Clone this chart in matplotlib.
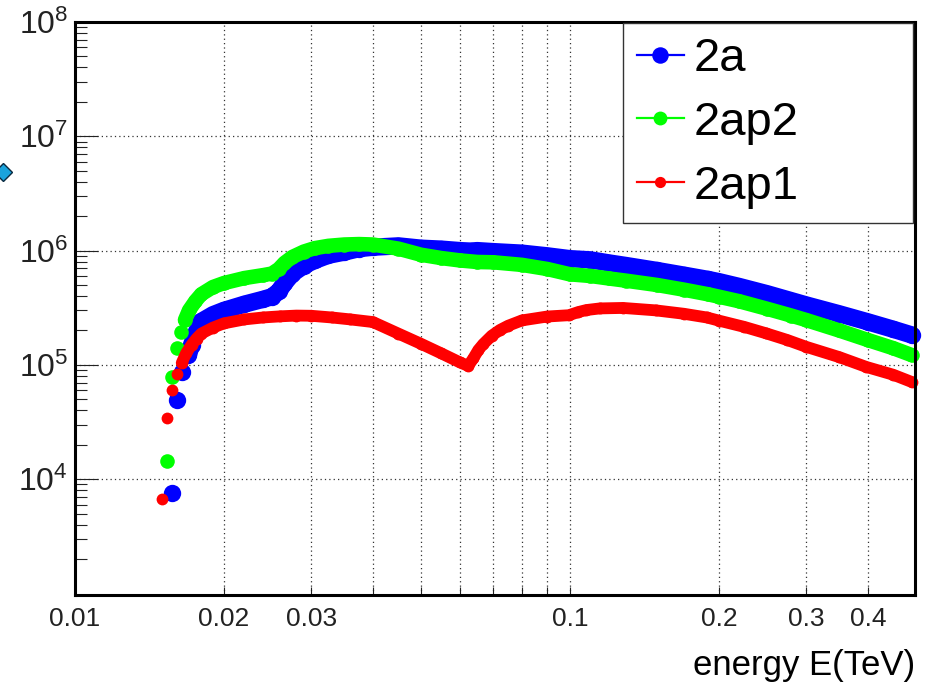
import matplotlib
matplotlib.use('Agg')
import matplotlib.pyplot as plt
from matplotlib.lines import Line2D
from matplotlib.ticker import FixedLocator, FixedFormatter, NullFormatter

plt.rcParams['font.family'] = ['Liberation Sans', 'DejaVu Sans']
plt.rcParams['mathtext.fontset'] = 'custom'
plt.rcParams['mathtext.rm'] = 'Liberation Sans'

# --- data (energy in TeV) ---
e_2a = [0.01568, 0.01605, 0.01647, 0.01694, 0.0172, 0.0176, 0.018, 0.019, 0.02,
        0.022, 0.024, 0.025, 0.0258, 0.0265, 0.0275, 0.029, 0.0305, 0.0325,
        0.035, 0.0375, 0.04, 0.045, 0.05, 0.055, 0.06, 0.063, 0.065, 0.07,
        0.08, 0.09, 0.1, 0.11, 0.12, 0.13, 0.15, 0.17, 0.19, 0.2, 0.22, 0.25,
        0.28, 0.3, 0.35, 0.4, 0.45, 0.49]
v_2a = [7.6e3, 4.9e4, 8.6e4, 1.22e5, 1.5e5, 1.95e5, 2.4e5, 2.75e5, 3.0e5,
        3.4e5, 3.75e5, 3.95e5, 4.4e5, 5.2e5, 6.3e5, 7.4e5, 8.2e5, 9.1e5,
        9.7e5, 1.04e6, 1.07e6, 1.1e6, 1.05e6, 1.03e6, 1.0e6, 9.9e5, 1.0e6, 9.8e5,
        9.5e5, 9.0e5, 8.5e5, 8.3e5, 7.8e5, 7.4e5, 6.7e5, 6.1e5, 5.6e5, 5.35e5, 4.85e5, 4.2e5,
        3.65e5, 3.35e5, 2.8e5, 2.38e5, 2.05e5, 1.83e5]

e_2ap2 = [0.01536, 0.01568, 0.01605, 0.01635, 0.01668, 0.017, 0.0175, 0.018, 0.019,
          0.02, 0.022, 0.024, 0.025, 0.0258, 0.0265, 0.0275, 0.029, 0.0305,
          0.0325, 0.035, 0.0375, 0.04, 0.045, 0.05, 0.055, 0.06, 0.065, 0.07,
          0.08, 0.09, 0.1, 0.11, 0.12, 0.13, 0.15, 0.17, 0.19, 0.2, 0.22, 0.25,
          0.28, 0.3, 0.35, 0.4, 0.45, 0.49]
v_2ap2 = [1.45e4, 7.9e4, 1.4e5, 1.93e5, 2.47e5, 3.0e5, 3.6e5, 4.15e5, 4.8e5,
          5.2e5, 5.75e5, 6.1e5, 6.3e5, 6.9e5, 7.8e5, 8.8e5, 9.8e5, 1.05e6,
          1.1e6, 1.13e6, 1.14e6, 1.13e6, 1.04e6, 9.2e5, 8.6e5, 8.2e5, 7.95e5, 7.9e5,
          7.5e5, 6.9e5, 6.2e5, 6.0e5, 5.7e5, 5.45e5, 5.0e5, 4.55e5, 4.15e5, 3.95e5, 3.6e5, 3.1e5,
          2.7e5, 2.47e5, 2.0e5, 1.65e5, 1.4e5, 1.22e5]

e_2ap1 = [0.01497, 0.01532, 0.01568, 0.01605, 0.01643, 0.01676, 0.0172, 0.0176, 0.018,
          0.019, 0.02, 0.022, 0.024, 0.026, 0.028, 0.03, 0.033, 0.036, 0.04,
          0.045, 0.05, 0.055, 0.06, 0.0623, 0.0638, 0.0653, 0.0668, 0.0695, 0.0722,
          0.075, 0.08, 0.09, 0.0995, 0.104, 0.108, 0.115, 0.128, 0.149, 0.17,
          0.189, 0.2, 0.225, 0.249, 0.275, 0.3, 0.35, 0.397, 0.45, 0.49]
v_2ap1 = [6.7e3, 3.45e4, 6.0e4, 8.3e4, 1.04e5, 1.26e5, 1.5e5, 1.7e5, 1.88e5,
          2.12e5, 2.31e5, 2.5e5, 2.6e5, 2.66e5, 2.7e5, 2.69e5, 2.6e5, 2.5e5, 2.37e5,
          1.88e5, 1.53e5, 1.26e5, 1.05e5, 9.8e4, 1.14e5, 1.35e5, 1.52e5, 1.8e5, 2.02e5,
          2.2e5, 2.45e5, 2.65e5, 2.72e5, 2.9e5, 3.02e5, 3.12e5, 3.15e5, 3.0e5, 2.8e5,
          2.6e5, 2.44e5, 2.15e5, 1.89e5, 1.65e5, 1.44e5, 1.17e5, 9.6e4, 8.2e4, 7.1e4]

x_major = [0.01, 0.02, 0.03, 0.1, 0.2, 0.3, 0.4]
x_major_labels = ['0.01', '0.02', '0.03', '0.1', '0.2', '0.3', '0.4']
x_minor = [0.04, 0.05, 0.06, 0.07, 0.08, 0.09]
y_major = [1e4, 1e5, 1e6, 1e7, 1e8]
y_major_labels = [r'$\mathregular{10^{4}}$', r'$\mathregular{10^{5}}$', r'$\mathregular{10^{6}}$',
                  r'$\mathregular{10^{7}}$', r'$\mathregular{10^{8}}$']

# name, energies, values, colour, marker size (pt), where the dots merge into a band
series = [
    ('2a', e_2a, v_2a, '#0000ff', 12.5, 0.0169),
    ('2ap2', e_2ap2, v_2ap2, '#00ff00', 10.5, 0.0166),
    ('2ap1', e_2ap1, v_2ap1, '#ff0000', 8.5, 0.0164),
]

fig = plt.figure(figsize=(9.28, 6.87), dpi=100)
ax = fig.add_axes([75/928, 1-595/687, 840/928, 573/687])
ax.set_xscale('log')
ax.set_yscale('log')
ax.set_xlim(0.01, 0.498)
ax.set_ylim(970, 1e8)

handles = []
for name, e, v, col, ms, dense_from in series:
    # dense region: markers overlap into a band
    ed = [a for a in e if a >= dense_from]
    vd = [b for a, b in zip(e, v) if a >= dense_from]
    ax.plot(ed, vd, color=col, lw=ms, solid_capstyle='round',
            solid_joinstyle='round', clip_on=False, zorder=2)
    ax.plot(e, v, ls='none', marker='o', ms=ms, mew=0, color=col,
            clip_on=False, zorder=2)
    handles.append(Line2D([], [], color=col, lw=1.6, marker='o', ms=ms * 0.95, mew=0,
                          label=name))

# axes / ticks
ax.xaxis.set_major_locator(FixedLocator(x_major))
ax.xaxis.set_major_formatter(FixedFormatter(x_major_labels))
ax.xaxis.set_minor_locator(FixedLocator(x_minor))
ax.xaxis.set_minor_formatter(NullFormatter())
ax.yaxis.set_major_locator(FixedLocator(y_major))
ax.yaxis.set_major_formatter(FixedFormatter(y_major_labels))
ax.yaxis.set_minor_locator(FixedLocator(
    [m * 10**k for k in range(3, 8) for m in range(2, 10)]))
ax.yaxis.set_minor_formatter(NullFormatter())

ax.tick_params(axis='both', which='both', direction='in', top=False, right=False,
               colors='#222222', width=0.8)
ax.tick_params(axis='x', which='both', length=6, labelsize=19, pad=9)
ax.tick_params(axis='y', which='major', length=16.5, labelsize=23, pad=5)
ax.tick_params(axis='y', which='minor', length=8.6)

ax.grid(True, axis='x', which='both', color='#333333', ls=(0, (1, 2.5)), lw=0.9)
ax.grid(True, axis='y', which='major', color='#333333', ls=(0, (1, 2.5)), lw=0.9)

for s in ax.spines.values():
    s.set_linewidth(2.2)
    s.set_color('black')

ax.set_xlabel('energy E(TeV)', fontsize=25, loc='right')
ax.xaxis.set_label_coords(1.0, -0.095)

leg = ax.legend(handles=handles, loc='upper left',
                bbox_to_anchor=(0.652, 0.6597, 0.3457, 0.3386), mode='expand',
                borderaxespad=0, fancybox=False, framealpha=1, edgecolor='#333333',
                fontsize=34, handlelength=1.0, handletextpad=0.2,
                borderpad=0.3, labelspacing=0.42)
leg.get_frame().set_linewidth(1.0)

# small marker left over at the left edge of the screenshot
fig.add_artist(Line2D([0.003], [1 - 172/687], marker='D', ms=9, mfc='#1aa3dc',
                      mec='#0a2a40', mew=1.0, transform=fig.transFigure))

fig.savefig('out.png', dpi=100)
